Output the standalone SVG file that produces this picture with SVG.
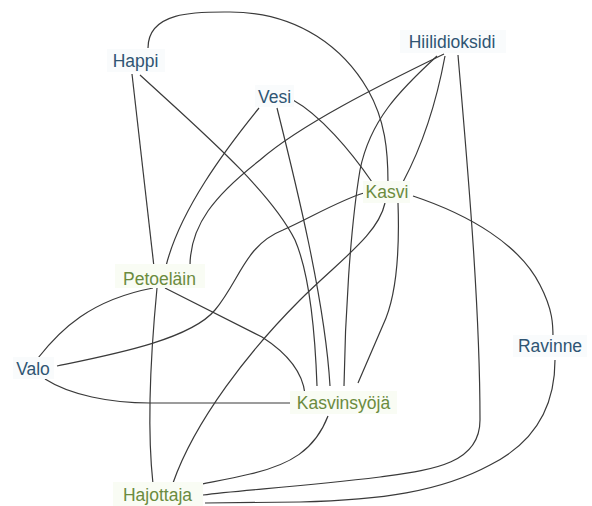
<svg xmlns="http://www.w3.org/2000/svg" width="592" height="506" viewBox="0 0 592 506">
<style>
.e{fill:none;stroke:#3a3a3a;stroke-width:1.2}
.bg-b{fill:#f9fbfc}
.bg-g{fill:#f9fcf4}
.t{font-family:"Liberation Sans",Arial,sans-serif;font-size:17.5px;text-anchor:middle}
.tb{fill:#2f5573}
.tg{fill:#6b8b3e}
</style>
<rect width="592" height="506" fill="#ffffff"/>
<g id="connectors">
<path class="e" d="M148,48 C148,10 200,12 230,12 C300,12 345,50 368,90 C385,120 388,150 388,183"/>
<path class="e" d="M132,74 L154,267"/>
<path class="e" d="M157,288 C152,340 146,420 153,484"/>
<path class="e" d="M140,75 C200,130 270,190 295,240 C310,275 315,330 317,386"/>
<path class="e" d="M259,108 C225,150 180,210 166,266"/>
<path class="e" d="M444,54 C380,85 300,125 260,160 C215,195 190,225 190,266"/>
<path class="e" d="M277,108 C295,180 325,300 330,386"/>
<path class="e" d="M293,100 C320,115 350,150 372,182"/>
<path class="e" d="M437,56 C400,90 370,120 360,170 C350,230 345,320 344,386"/>
<path class="e" d="M445,56 C435,110 420,150 403,182"/>
<path class="e" d="M458,55 C466,150 480,300 480,420 C480,465 430,470 380,477 C300,487 240,490 203,495"/>
<path class="e" d="M413,196 C470,215 520,245 540,285 C553,310 553,325 553,338"/>
<path class="e" d="M555,360 C555,400 540,440 490,465 C440,492 380,500 300,502 L205,503"/>
<path class="e" d="M398,203 C400,260 395,300 383,325 L358,383"/>
<path class="e" d="M385,203 C378,235 340,260 300,300 C250,350 195,420 173,483"/>
<path class="e" d="M57,366 C110,355 190,340 215,310 C240,280 245,245 283,230 C310,218 340,200 364,193"/>
<path class="e" d="M38,358 C60,330 90,300 153,288"/>
<path class="e" d="M45,379 C70,395 110,403 150,403 L290,403"/>
<path class="e" d="M165,288 L262,337 C290,355 303,375 305,394"/>
<path class="e" d="M328,416 C315,450 290,465 250,474 C225,480 205,483 193,486"/>
</g>
<g id="happi"><rect class="bg-b" x="107" y="49" width="58" height="23"/><text class="t tb" x="135.5" y="67">Happi</text></g>
<g id="vesi"><rect class="bg-b" x="255" y="85" width="39" height="22"/><text class="t tb" x="274.5" y="103">Vesi</text></g>
<g id="hiilidioksidi"><rect class="bg-b" x="400" y="30" width="106" height="23"/><text class="t tb" x="452" y="48">Hiilidioksidi</text></g>
<g id="kasvi"><rect class="bg-g" x="363" y="181" width="47" height="22"/><text class="t tg" x="387" y="198">Kasvi</text></g>
<g id="petoelain"><rect class="bg-g" x="115" y="264" width="90" height="24"/><text class="t tg" x="159.5" y="285">Petoeläin</text></g>
<g id="valo"><rect class="bg-b" x="13" y="357" width="41" height="22"/><text class="t tb" x="33" y="375">Valo</text></g>
<g id="ravinne"><rect class="bg-b" x="513" y="335" width="74" height="22"/><text class="t tb" x="550" y="352">Ravinne</text></g>
<g id="kasvinsyoja"><rect class="bg-g" x="290" y="391" width="107" height="23"/><text class="t tg" x="343.5" y="409">Kasvinsyöjä</text></g>
<g id="hajottaja"><rect class="bg-g" x="113" y="482" width="90" height="24"/><text class="t tg" x="157.5" y="501">Hajottaja</text></g>
</svg>
